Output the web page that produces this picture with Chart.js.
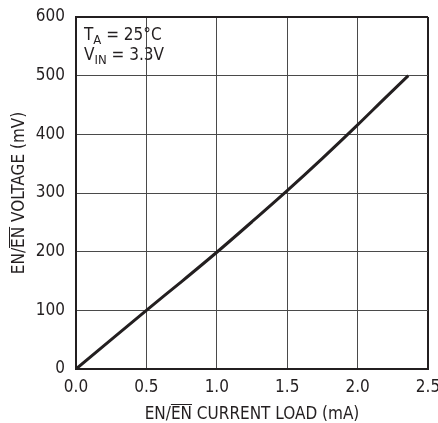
<!DOCTYPE html>
<html lang="en">
<head>
<meta charset="UTF-8">
<title>EN Voltage vs Current Load</title>
<style>
  html, body { margin: 0; padding: 0; background: #fff; }
  #wrap { width: 438px; height: 423px; position: relative; }
</style>
</head>
<body>
<div id="wrap"><canvas id="myChart"></canvas></div>
<script src="https://cdn.jsdelivr.net/npm/chart.js"></script>
<script>
  // values
  const currentLoad = [0, 0.25, 0.5, 0.75, 1.0, 1.25, 1.5, 1.75, 2.0, 2.2, 2.36];
  const voltage = [0, 50, 100, 149, 199, 251, 304, 359, 416, 463, 500];
  const xTicks = [0, 0.5, 1.0, 1.5, 2.0, 2.5];
  const yTicks = [0, 100, 200, 300, 400, 500, 600];

  const FONT = "'Liberation Sans Narrow', 'DejaVu Sans Condensed', 'Liberation Sans', sans-serif";
  const INK = '#231f20';

  // text with part of it overlined (EN/EN)
  function drawOverText(ctx, parts, x, y) {
    let cx = x;
    parts.forEach(p => {
      const w = ctx.measureText(p.t).width;
      ctx.fillText(p.t, cx, y);
      if (p.over) {
        ctx.beginPath();
        ctx.lineWidth = 1;
        ctx.moveTo(cx, y - 14.5);
        ctx.lineTo(cx + w, y - 14.5);
        ctx.stroke();
      }
      cx += w;
    });
  }
  function partsWidth(ctx, parts) {
    return parts.reduce((s, p) => s + ctx.measureText(p.t).width, 0);
  }

  const labelsPlugin = {
    id: 'labels',
    afterDraw(chart) {
      const ctx = chart.ctx;
      const area = chart.chartArea;
      ctx.save();
      ctx.fillStyle = INK;
      ctx.strokeStyle = INK;
      ctx.textBaseline = 'alphabetic';
      ctx.textAlign = 'left';
      ctx.font = '17px ' + FONT;

      // x title
      const xParts = [{t: 'EN/'}, {t: 'EN', over: true}, {t: ' CURRENT LOAD (mA)'}];
      const xw = partsWidth(ctx, xParts);
      drawOverText(ctx, xParts, (area.left + area.right) / 2 - xw / 2, 419);

      // y title
      const yParts = [{t: 'EN/'}, {t: 'EN', over: true}, {t: ' VOLTAGE (mV)'}];
      const yw = partsWidth(ctx, yParts);
      ctx.save();
      ctx.translate(24, (area.top + area.bottom) / 2);
      ctx.rotate(-Math.PI / 2);
      drawOverText(ctx, yParts, -yw / 2, 0);
      ctx.restore();

      // conditions note
      let x0 = area.left + 8, y0 = area.top + 23;
      let w = ctx.measureText('T').width;
      ctx.fillText('T', x0, y0);
      ctx.font = '13px ' + FONT;
      ctx.fillText('A', x0 + w, y0 + 4);
      w += ctx.measureText('A').width;
      ctx.font = '17px ' + FONT;
      ctx.fillText(' = 25°C', x0 + w, y0);

      y0 += 20;
      w = ctx.measureText('V').width;
      ctx.fillText('V', x0, y0);
      ctx.font = '13px ' + FONT;
      ctx.fillText('IN', x0 + w, y0 + 4);
      w += ctx.measureText('IN').width;
      ctx.font = '17px ' + FONT;
      ctx.fillText(' = 3.3V', x0 + w, y0);
      ctx.restore();
    }
  };

  const ctx = document.getElementById('myChart');
  const chart = new Chart(ctx, {
    type: 'line',
    data: {
      datasets: [{
        data: currentLoad.map((x, i) => ({x: x, y: voltage[i]})),
        borderColor: INK,
        borderWidth: 3,
        pointRadius: 0,
        cubicInterpolationMode: 'monotone',
        fill: false
      }]
    },
    options: {
      responsive: true,
      maintainAspectRatio: false,
      animation: false,
      layout: { padding: { top: 17, right: 10, left: 0, bottom: 0 } },
      plugins: { legend: { display: false }, tooltip: { enabled: false } },
      scales: {
        x: {
          type: 'linear',
          min: 0, max: 2.5,
          afterBuildTicks: s => { s.ticks = xTicks.map(v => ({value: v})); },
          afterFit: s => { s.height = 54; s.paddingLeft = 0; s.paddingRight = 0; },
          grid: {
            color: c => c.tick && c.tick.value === 2.5 ? INK : '#4a4a4a',
            lineWidth: c => c.tick && c.tick.value === 2.5 ? 2 : 1,
            drawTicks: false
          },
          border: { color: INK, width: 2 },
          ticks: {
            color: INK, padding: 8,
            font: { family: FONT, size: 17 },
            callback: v => v.toFixed(1)
          }
        },
        y: {
          min: 0, max: 600,
          afterBuildTicks: s => { s.ticks = yTicks.map(v => ({value: v})); },
          afterFit: s => { s.width = 76; s.paddingTop = 0; s.paddingBottom = 0; },
          grid: {
            color: c => c.tick && c.tick.value === 600 ? INK : '#4a4a4a',
            lineWidth: c => c.tick && c.tick.value === 600 ? 2 : 1,
            drawTicks: false
          },
          border: { color: INK, width: 2 },
          ticks: {
            color: INK, padding: 11,
            font: { family: FONT, size: 17 },
            callback: v => String(v)
          }
        }
      }
    },
    plugins: [labelsPlugin]
  });
</script>
</body>
</html>
